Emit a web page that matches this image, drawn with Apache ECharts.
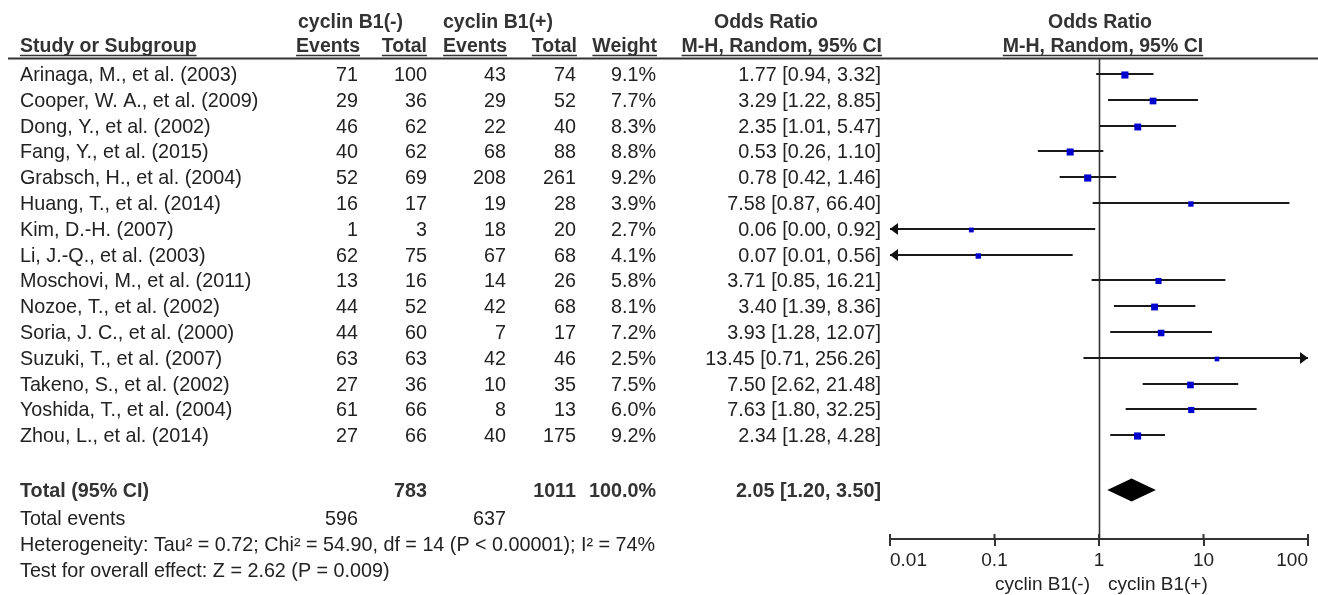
<!DOCTYPE html>
<html><head><meta charset="utf-8">
<script src="https://cdn.jsdelivr.net/npm/echarts@6/dist/echarts.min.js"></script>
<style>html,body{margin:0;padding:0;background:#fff}#c{width:1318px;height:595px}</style>
</head><body><div id="c"></div>
<script>
// ---------- data ----------
const studies = ["Arinaga, M., et al. (2003)","Cooper, W. A., et al. (2009)","Dong, Y., et al. (2002)","Fang, Y., et al. (2015)","Grabsch, H., et al. (2004)","Huang, T., et al. (2014)","Kim, D.-H. (2007)","Li, J.-Q., et al. (2003)","Moschovi, M., et al. (2011)","Nozoe, T., et al. (2002)","Soria, J. C., et al. (2000)","Suzuki, T., et al. (2007)","Takeno, S., et al. (2002)","Yoshida, T., et al. (2004)","Zhou, L., et al. (2014)"];
const eventsNeg = [71,29,46,40,52,16,1,62,13,44,44,63,27,61,27];
const totalNeg  = [100,36,62,62,69,17,3,75,16,52,60,63,36,66,66];
const eventsPos = [43,29,22,68,208,19,18,67,14,42,7,42,10,8,40];
const totalPos  = [74,52,40,88,261,28,20,68,26,68,17,46,35,13,175];
const weights   = [9.1,7.7,8.3,8.8,9.2,3.9,2.7,4.1,5.8,8.1,7.2,2.5,7.5,6.0,9.2];
const oddsRatio = [1.77,3.29,2.35,0.53,0.78,7.58,0.06,0.07,3.71,3.40,3.93,13.45,7.50,7.63,2.34];
const ciLow     = [0.94,1.22,1.01,0.26,0.42,0.87,0.00,0.01,0.85,1.39,1.28,0.71,2.62,1.80,1.28];
const ciHigh    = [3.32,8.85,5.47,1.10,1.46,66.40,0.92,0.56,16.21,8.36,12.07,256.26,21.48,32.25,4.28];
const pooled    = {or: 2.05, lo: 1.20, hi: 3.50};
const totals    = {totalNeg: 783, totalPos: 1011, weight: "100.0%", eventsNeg: 596, eventsPos: 637};
const heterogeneityText = "Heterogeneity: Tau² = 0.72; Chi² = 54.90, df = 14 (P < 0.00001); I² = 74%";
const overallText = "Test for overall effect: Z = 2.62 (P = 0.009)";
const tickLabels = ["0.01","0.1","1","10","100"];
const tickValues = [0.01, 0.1, 1, 10, 100];
const axisMin = 0.01, axisMax = 100;

// ---------- layout ----------
const FONT = '"Liberation Sans", Arial, sans-serif';
const FS = 19.75, FSB = 19.5, FSA = 19;
const ROW0 = 74, ROWH = 25.8, TXT_DY = 1.5;
const GRID_TOP = 58, GRID_BOT = 539;
const yMin = (GRID_TOP - ROW0) / ROWH, yMax = (GRID_BOT - ROW0) / ROWH;
const rowOf = px => (px - ROW0) / ROWH;
const C = {evN: 358, totN: 427, evP: 506, totP: 576, w: 656, or: 881};

const mctx = document.createElement('canvas').getContext('2d');
function tw(t, font){ mctx.font = font; return mctx.measureText(t).width; }

const fmt = v => v.toFixed(2);
const items = [];
function add(row, text, x, align, bold, underline, size){ items.push({row, text: String(text), x, align, bold: !!bold, underline: !!underline, size: size || (bold ? FSB : FS)}); }

const H1 = rowOf(23 - TXT_DY), H2 = rowOf(47 - TXT_DY);
add(H1, "cyclin B1(-)", 298, 'left', true);
add(H1, "cyclin B1(+)", 443, 'left', true);
add(H1, "Odds Ratio", 766, 'center', true);
add(H1, "Odds Ratio", 1100, 'center', true);
add(H2, "Study or Subgroup", 20, 'left', true, true);
add(H2, "Events", 360, 'right', true, true);
add(H2, "Total", 427, 'right', true, true);
add(H2, "Events", 507, 'right', true, true);
add(H2, "Total", 577, 'right', true, true);
add(H2, "Weight", 657, 'right', true, true);
add(H2, "M-H, Random, 95% CI", 882, 'right', true, true);
add(H2, "M-H, Random, 95% CI", 1103, 'center', true, true);

studies.forEach((s, i) => {
  add(i, s, 20, 'left');
  add(i, eventsNeg[i], C.evN, 'right');
  add(i, totalNeg[i], C.totN, 'right');
  add(i, eventsPos[i], C.evP, 'right');
  add(i, totalPos[i], C.totP, 'right');
  add(i, weights[i].toFixed(1) + '%', C.w, 'right');
  add(i, fmt(oddsRatio[i]) + ' [' + fmt(ciLow[i]) + ', ' + fmt(ciHigh[i]) + ']', C.or, 'right');
});
const RT = rowOf(490), RE = rowOf(518), RH = rowOf(544), RZ = rowOf(570);
add(RT, "Total (95% CI)", 20, 'left', true, false, FS);
add(RT, totals.totalNeg, C.totN, 'right', true, false, FS);
add(RT, totals.totalPos, C.totP, 'right', true, false, FS);
add(RT, totals.weight, C.w, 'right', true, false, FS);
add(RT, fmt(pooled.or) + ' [' + fmt(pooled.lo) + ', ' + fmt(pooled.hi) + ']', C.or, 'right', true, false, FS);
add(RE, "Total events", 20, 'left');
add(RE, totals.eventsNeg, C.evN, 'right');
add(RE, totals.eventsPos, C.evP, 'right');
add(RH, heterogeneityText, 20, 'left');
add(RZ, overallText, 20, 'left');

const chart = echarts.init(document.getElementById('c'), null, {renderer: 'canvas'});

const option = {
  animation: false,
  backgroundColor: '#fff',
  grid: {left: 890, right: 10, top: GRID_TOP, bottom: 595 - GRID_BOT, containLabel: false},
  xAxis: {
    type: 'log', logBase: 10, min: axisMin, max: axisMax, position: 'bottom',
    splitLine: {show: false}, minorTick: {show: false},
    axisLine: {show: true, onZero: false, lineStyle: {color: '#333', width: 2}},
    axisTick: {show: true, inside: false, length: 7, lineStyle: {color: '#333', width: 2}},
    axisLabel: {
      show: true, margin: 12, color: '#222', fontSize: FSA, fontFamily: FONT,
      showMinLabel: true, showMaxLabel: true, alignMinLabel: 'left', alignMaxLabel: 'right',
      formatter: v => tickLabels[Math.round(Math.log10(v)) + 2]
    }
  },
  yAxis: {type: 'value', inverse: true, min: yMin, max: yMax, show: false},
  graphic: [
    {type: 'line', shape: {x1: 8, y1: 58.5, x2: 1318, y2: 58.5}, style: {stroke: '#333', lineWidth: 2}, z: 10},
    {type: 'text', x: 1090, y: 585, style: {text: 'cyclin B1(-)', font: FSA + 'px ' + FONT, fill: '#222', align: 'right', textAlign: 'right', verticalAlign: 'middle', textVerticalAlign: 'middle'}},
    {type: 'text', x: 1108, y: 585, style: {text: 'cyclin B1(+)', font: FSA + 'px ' + FONT, fill: '#222', align: 'left', textAlign: 'left', verticalAlign: 'middle', textVerticalAlign: 'middle'}}
  ],
  series: [
    { // null line at OR = 1
      type: 'custom', name: 'null', silent: true,
      data: [[1, 0]], encode: {x: 0, y: 1},
      renderItem: (params, api) => {
        const a = api.coord([api.value(0), yMin]), b = api.coord([api.value(0), yMax]);
        const x = Math.round(a[0]) + 0.5;
        return {type: 'line', shape: {x1: x, y1: a[1], x2: x, y2: b[1]}, style: {stroke: '#333', lineWidth: 1.6}};
      }
    },
    { // inner halves of the axis ticks
      type: 'custom', name: 'ticksIn', silent: true, clip: false,
      data: tickValues.map(v => [v, yMax]), encode: {x: 0, y: 1},
      renderItem: (params, api) => {
        const p = api.coord([api.value(0), api.value(1)]);
        return {type: 'line', shape: {x1: p[0], y1: p[1], x2: p[0], y2: p[1] - 5}, style: {stroke: '#333', lineWidth: 2}};
      }
    },
    { // study CIs and squares
      type: 'custom', name: 'studies', silent: true, clip: false,
      data: studies.map((s, i) => [oddsRatio[i], i, ciLow[i], ciHigh[i], weights[i]]),
      encode: {x: 0, y: 1},
      renderItem: (params, api) => {
        const orv = api.value(0), row = api.value(1), lo = api.value(2), hi = api.value(3), w = api.value(4);
        const c = api.coord([orv, row]);
        const pL = api.coord([Math.max(lo, axisMin), row]);
        const pH = api.coord([Math.min(hi, axisMax), row]);
        const y = Math.round(c[1]);
        const ch = [{type: 'line', shape: {x1: pL[0], y1: y, x2: pH[0], y2: y}, style: {stroke: '#1a1a1a', lineWidth: 2}}];
        if (lo <= axisMin) ch.push({type: 'polygon', shape: {points: [[pL[0], y], [pL[0] + 8, y - 6], [pL[0] + 8, y + 6]]}, style: {fill: '#111'}});
        if (hi >= axisMax) ch.push({type: 'polygon', shape: {points: [[pH[0], y], [pH[0] - 8, y - 6], [pH[0] - 8, y + 6]]}, style: {fill: '#111'}});
        const s = 2 + 1.7 * Math.sqrt(w);
        ch.push({type: 'rect', shape: {x: c[0] - s / 2, y: y - s / 2 + 1, width: s, height: s}, style: {fill: '#0000CC'}});
        return {type: 'group', children: ch};
      }
    },
    { // pooled diamond
      type: 'custom', name: 'pooled', silent: true,
      data: [[pooled.or, RT, pooled.lo, pooled.hi]], encode: {x: 0, y: 1},
      renderItem: (params, api) => {
        const c = api.coord([api.value(0), api.value(1)]);
        const l = api.coord([api.value(2), api.value(1)]), r = api.coord([api.value(3), api.value(1)]);
        return {type: 'polygon', shape: {points: [[l[0], c[1]], [c[0], c[1] - 11.5], [r[0], c[1]], [c[0], c[1] + 11.5]]}, style: {fill: '#000'}};
      }
    },
    { // table text
      type: 'custom', name: 'table', silent: true, clip: false,
      data: items.map((it, k) => [1, it.row, k]), encode: {x: 0, y: 1},
      renderItem: (params, api) => {
        const it = items[api.value(2)];
        const y = api.coord([1, api.value(1)])[1] + TXT_DY;
        const font = (it.bold ? 'bold ' : '') + it.size + 'px ' + FONT;
        const col = it.bold ? '#333' : '#222';
        const ch = [{type: 'text', x: it.x, y: y, style: {text: it.text, font: font, fill: col, align: it.align, textAlign: it.align, verticalAlign: 'middle', textVerticalAlign: 'middle'}}];
        if (it.underline) {
          const w = tw(it.text, font);
          const x0 = it.align === 'left' ? it.x : it.align === 'right' ? it.x - w : it.x - w / 2;
          const uy = Math.round(y + 8) + 0.5;
          ch.push({type: 'line', shape: {x1: x0, y1: uy, x2: x0 + w, y2: uy}, style: {stroke: col, lineWidth: 1.5}});
        }
        return {type: 'group', children: ch};
      }
    }
  ]
};
chart.setOption(option);
</script>
</body></html>
